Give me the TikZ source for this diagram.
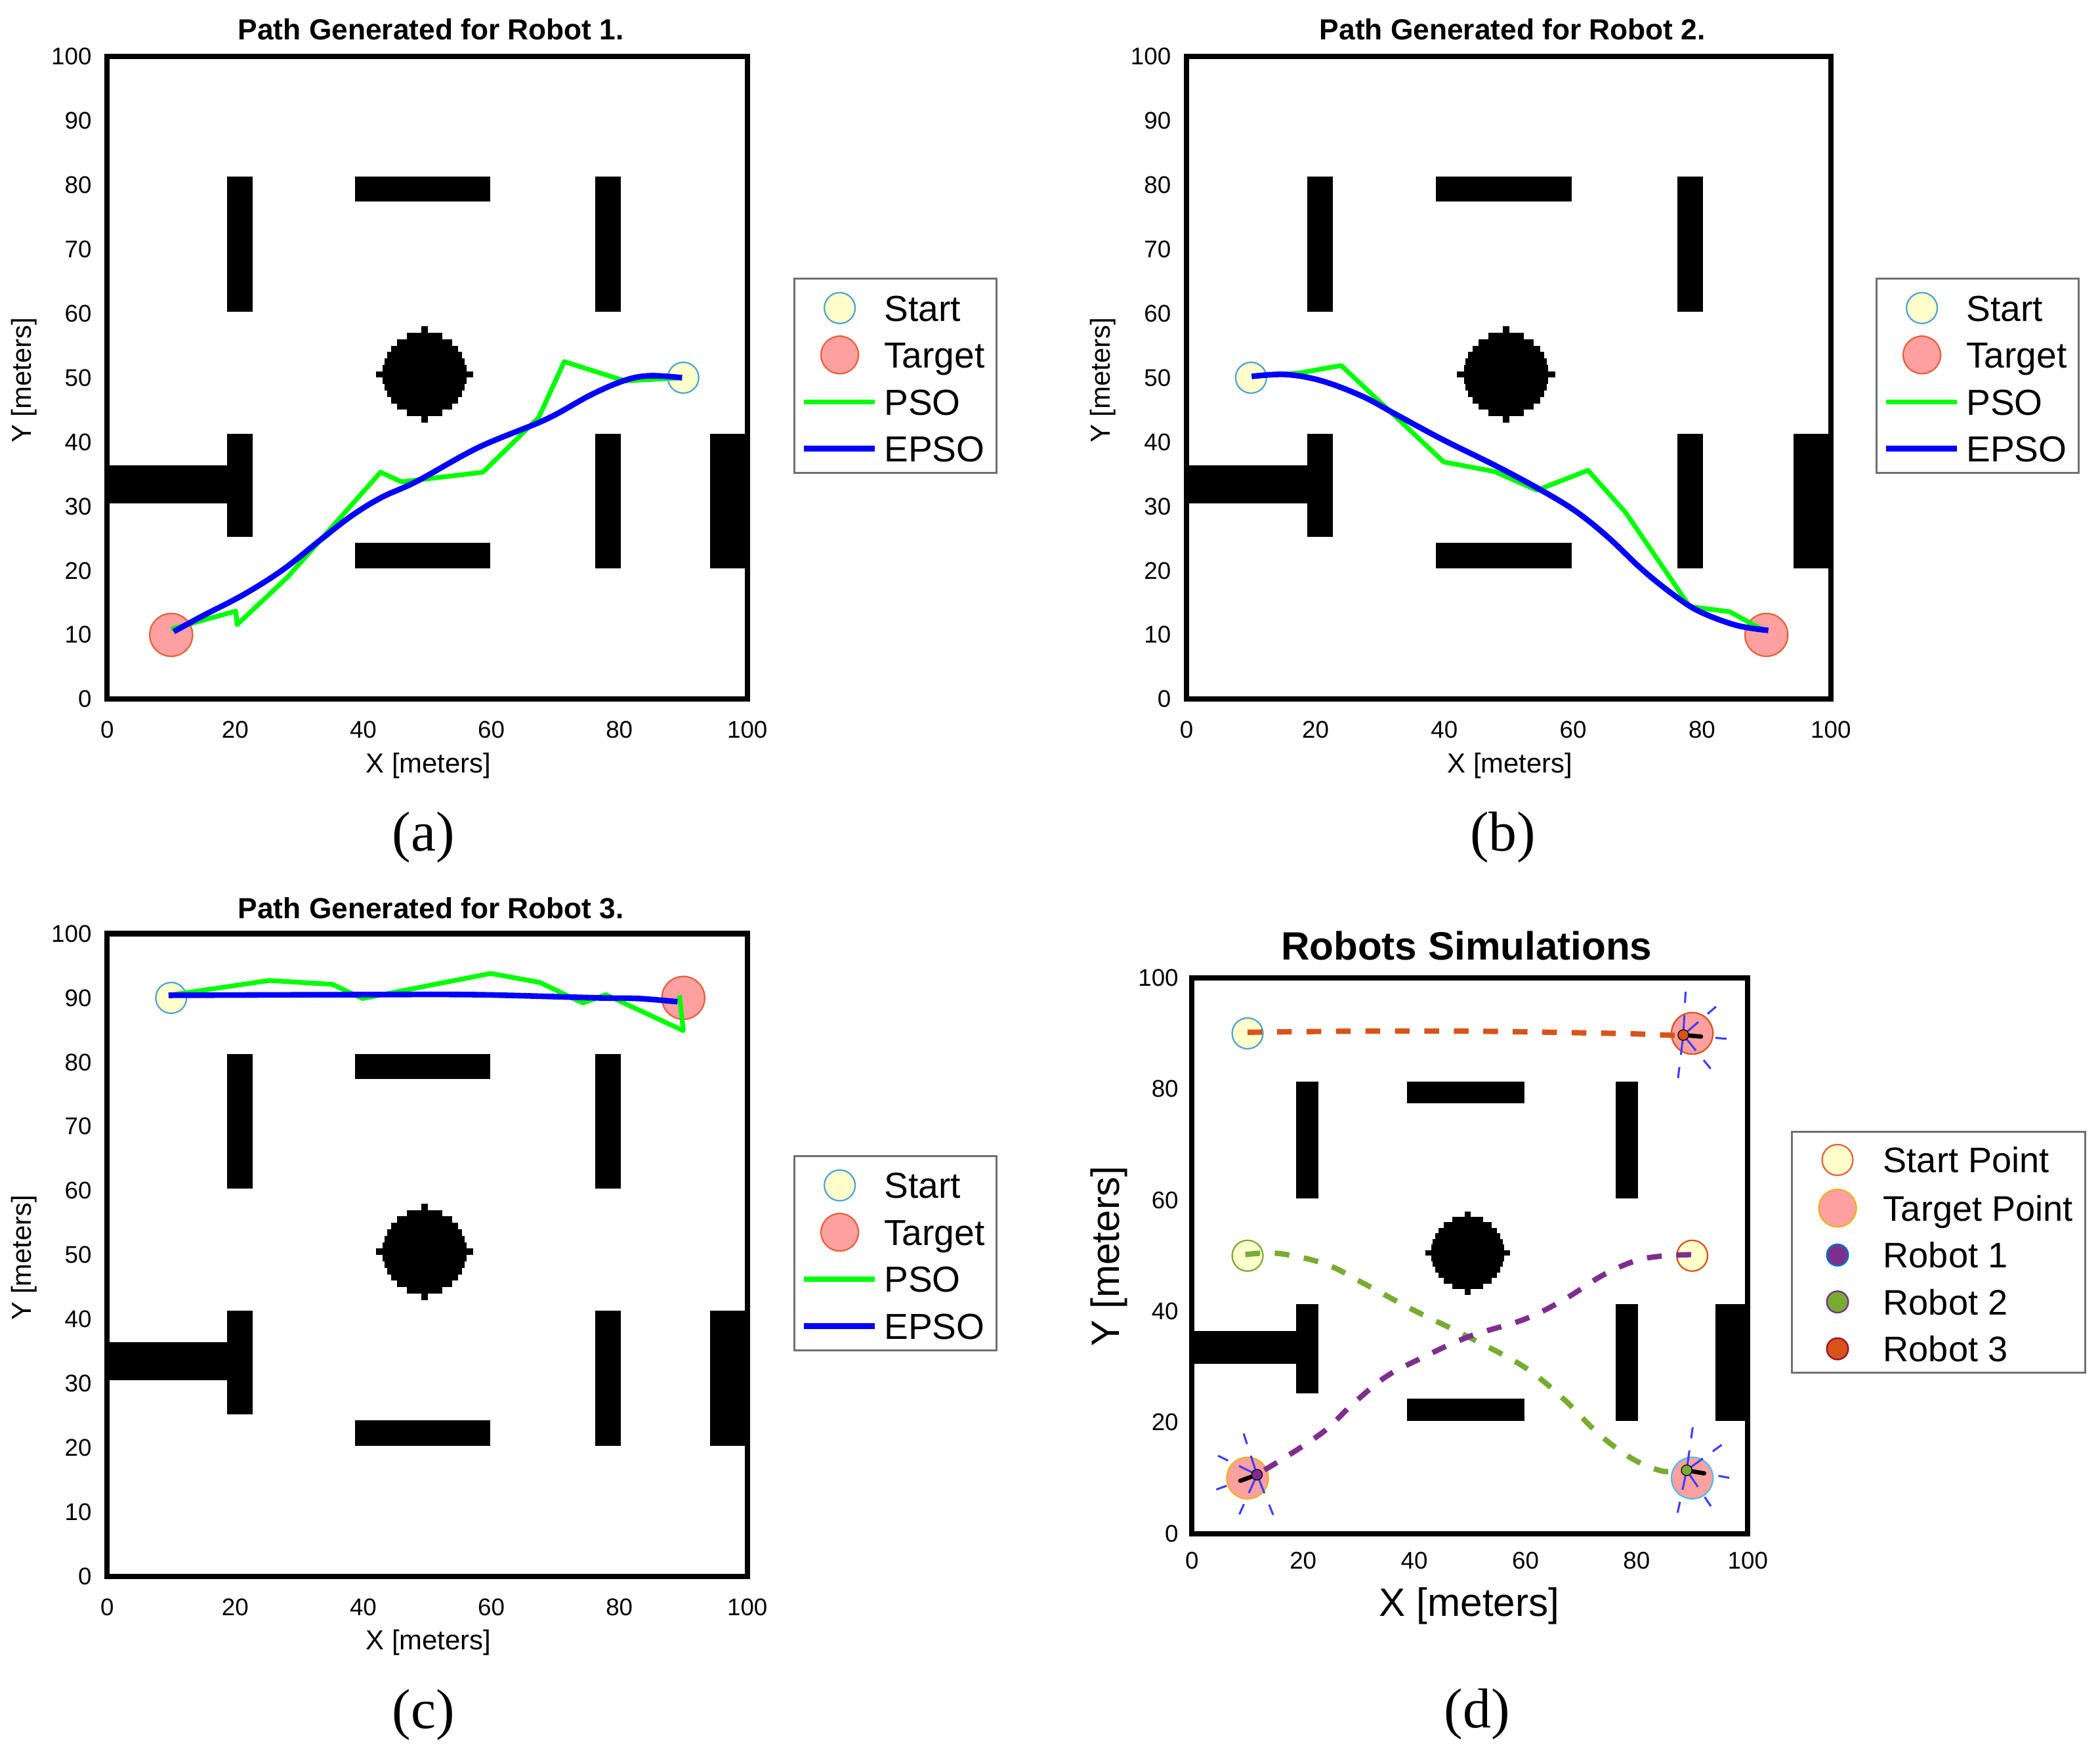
\documentclass[tikz,border=0pt]{standalone}
\usepackage{fontspec}
\setmainfont{Liberation Sans}
\newfontfamily\capserif{Liberation Serif}
\definecolor{stfill}{HTML}{FFFFCC}
\definecolor{stedge}{HTML}{4DA3D9}
\definecolor{tgfill}{HTML}{FFA0A0}
\definecolor{tgedge}{HTML}{E8603C}
\definecolor{psog}{HTML}{00FF00}
\definecolor{epsob}{HTML}{0000FF}
\definecolor{mOrange}{HTML}{D95319}
\definecolor{mGreen}{HTML}{77AC30}
\definecolor{mPurple}{HTML}{7E2F8E}
\definecolor{mBlue}{HTML}{0072BD}
\definecolor{mYellow}{HTML}{EDB120}
\definecolor{mCyan}{HTML}{4DBEEE}
\definecolor{mRed}{HTML}{A2142F}
\definecolor{legedge}{HTML}{707070}
\definecolor{beamblue}{HTML}{3D3DFF}
\tikzset{
 startmk/.style={circle, draw=stedge, fill=stfill, line width=1.1pt, minimum size=23pt, inner sep=0pt},
 targetmk/.style={circle, draw=tgedge, fill=tgfill, line width=1.1pt, minimum size=32pt, inner sep=0pt},
 psoline/.style={draw=psog, line width=3.5pt, line join=round},
 epsoline/.style={draw=epsob, line width=4.2pt, line join=round},
 ticklab/.style={font=\fontsize{18}{20}\selectfont, inner sep=0pt},
 axlab/.style={font=\fontsize{20.5}{24}\selectfont, inner sep=0pt},
 titlelab/.style={font=\bfseries\fontsize{21.7}{25}\selectfont, inner sep=0pt},
 caplab/.style={font=\capserif\fontsize{42}{48}\selectfont, inner sep=0pt},
 legbox/.style={draw=legedge, line width=1.5pt, fill=white},
 legtext/.style={font=\fontsize{27}{30}\selectfont, inner sep=0pt, anchor=base west},
 beam/.style={draw=beamblue, line width=1.5pt},
 headline/.style={draw=black, line width=3.2pt, line cap=round},
 robotdot/.style={circle, minimum size=8pt, inner sep=0pt, draw=black, line width=0.6pt},
 simpath/.style={line width=4pt, dash pattern=on 11pt off 11pt},
}
\newcommand\mazeobstacles{%
 \fill (18.7,60.3) rectangle (22.7,81.3);
 \fill (38.7,77.4) rectangle (59.8,81.3);
 \fill (76.2,60.3) rectangle (80.2,81.3);
 \fill (18.7,25.2) rectangle (22.7,41.3);
 \fill (0,30.5) rectangle (18.7,36.4);
 \fill (38.7,20.3) rectangle (59.8,24.3);
 \fill (76.2,20.3) rectangle (80.2,41.3);
 \fill (94.2,20.3) rectangle (100,41.3);
 \foreach \j in {-6,...,6}{%
   \pgfmathsetmacro\hw{sqrt(43.56-(\j)*(\j))}
   \fill (49.6-\hw,50.5+\j-0.5) rectangle (49.6+\hw,50.5+\j+0.5);}
 \fill (49.1,43) rectangle (50.1,58);
 \fill (42.0,50.0) rectangle (57.2,51.0);
 \draw[line width=4pt] (0,0) rectangle (100,100);
}
\newcommand\pathaxes[1]{%
 \foreach \v in {0,10,...,100}{\node[ticklab, anchor=east] (#1y\v) at (-2.4,\v) {\v};}
 \foreach \v in {0,20,...,100}{\node[ticklab] (#1x\v) at (\v,-4.8) {\v};}
 \node[axlab] (#1xl) at (50.2,-10.3) {X [meters]};
 \node[axlab, rotate=90] (#1yl) at (-13,49.6) {Y [meters]};
}
\newcommand\psolegend[3]{%
 \draw[legbox] (#1,#2) rectangle (#1+151,#2-145);
 \node[startmk] (#3st) at (#1+34,#2-22) {};
 \node[targetmk, minimum size=28pt] (#3tg) at (#1+34,#2-57) {};
 \draw[psoline] (#1+7,#2-92) -- (#1+60,#2-92);
 \draw[epsoline] (#1+7,#2-127) -- (#1+60,#2-127);
 \node[legtext] (#3l1) at (#1+67,#2-31.7) {Start};
 \node[legtext] (#3l2) at (#1+67,#2-66.7) {Target};
 \node[legtext] (#3l3) at (#1+67,#2-101.7) {PSO};
 \node[legtext] (#3l4) at (#1+67,#2-136.7) {EPSO};
}
\newcommand\robotglyph[5]{%
 \begin{scope}[shift={(#1,#2)}]
  \foreach \b in {-92,-46,46,92}{\draw[beam] (0,0) -- (#3+\b:3.6);}
  \foreach \b in {-92,-46,0,46,92}{\draw[beam] (#3+\b:5.8) -- (#3+\b:7.8);}
  \draw[headline] (0,0) -- (#3:3.2);
  \node[robotdot, fill=#4] (#5) at (0,0) {};
 \end{scope}}
\begin{document}
\begin{tikzpicture}[x=1pt,y=1pt]
\fill[white] (0,0) rectangle (1568,1310);
\useasboundingbox (0,0) rectangle (1568,1310);

% ---------- panel (a)
\begin{scope}[shift={(80,788)}, xscale=4.78, yscale=4.8]
 \mazeobstacles
 \pathaxes{a}
 \node[titlelab] (atitle) at (50.6,104.2) {Path Generated for Robot 1.};
 \node[caplab] (acap) at (49.4,-21.5) {(a)};
 \node[startmk] (astart) at (90,50) {};
 \node[targetmk] (atarget) at (10,10) {};
 \draw[psoline] plot coordinates {(89.8,50) (80.9,49.5) (71.4,52.5) (67.4,43.8) (58.7,35.3) (46.0,33.8) (42.7,35.3) (28.2,19.0) (20.3,11.6) (20.1,13.7) (10,10.9)};
 \draw[epsoline] plot[smooth, tension=0.6] coordinates {(89.8,50) (84.8,50.3) (80.9,49.6) (75.5,47.3) (68.5,43.5) (58.1,39.2) (48.4,33.9) (42.9,31.4) (38.3,28.6) (33.6,25) (27.4,20.1) (21.2,16.2) (15,13) (10.4,10.5)};
\end{scope}
\psolegend{593}{1102}{la}

% ---------- panel (b)
\begin{scope}[shift={(886,788)}, xscale=4.81, yscale=4.8]
 \mazeobstacles
 \pathaxes{b}
 \node[titlelab] (btitle) at (50.6,104.2) {Path Generated for Robot 2.};
 \node[caplab] (bcap) at (49.1,-21.5) {(b)};
 \node[startmk] (bstart) at (10,50) {};
 \node[targetmk] (btarget) at (90,10) {};
 \draw[psoline] plot coordinates {(10.1,50.2) (17.3,50.7) (24,51.9) (39.9,36.9) (47.8,35.4) (54.4,32.5) (62.3,35.6) (68.1,29.1) (78.1,14.4) (84.3,13.6) (89.6,10.7)};
 \draw[epsoline] plot[smooth, tension=0.6] coordinates {(10.1,50.2) (15.4,50.5) (21,49.5) (27.3,47.1) (32.3,44.4) (39.7,40.4) (47.8,36.4) (54.7,32.7) (60.3,29.3) (65.3,25.3) (70.9,20) (75.9,16) (79.7,13.6) (85.3,11.5) (90.3,10.7)};
\end{scope}
\psolegend{1401}{1102}{lb}

% ---------- panel (c)
\begin{scope}[shift={(80,133)}, xscale=4.78, yscale=4.8]
 \mazeobstacles
 \pathaxes{c}
 \node[titlelab] (ctitle) at (50.6,104) {Path Generated for Robot 3.};
 \node[caplab] (ccap) at (49.4,-21.5) {(c)};
 \node[startmk] (cstart) at (10,90) {};
 \node[targetmk] (ctarget) at (90,90) {};
 \draw[psoline] plot coordinates {(9.6,90.4) (25.3,92.7) (35.2,92.1) (39.9,89.9) (59.9,93.8) (67.6,92.4) (74.3,89.2) (77.9,90.5) (90.0,84.9) (89.4,90.4)};
 \draw[epsoline] plot[smooth, tension=0.5] coordinates {(9.6,90.4) (38.1,90.5) (57.4,90.5) (76.6,90) (83,89.9) (89.1,89.4)};
\end{scope}
\psolegend{593}{447}{lc}

% ---------- panel (d)
\begin{scope}[shift={(890,165)}, scale=4.15]
 \mazeobstacles
 \foreach \v in {0,20,...,100}{\node[ticklab, anchor=east] (dy\v) at (-2.4,\v) {\v};}
 \foreach \v in {0,20,...,100}{\node[ticklab] (dx\v) at (\v,-4.8) {\v};}
 \node[axlab, font=\fontsize{29.5}{33}\selectfont] (dxl) at (49.9,-13) {X [meters]};
 \node[axlab, font=\fontsize{29.5}{33}\selectfont, rotate=90] (dyl) at (-14.9,49.9) {Y [meters]};
 \node[titlelab, font=\bfseries\fontsize{29.5}{33}\selectfont] (dtitle) at (49.4,105.8) {Robots Simulations};
 \node[caplab] (dcap) at (51.3,-32.5) {(d)};
 \node[startmk, draw=stedge] (ds3) at (10,90) {};
 \node[startmk, draw=mGreen] (ds2) at (10,50) {};
 \node[startmk, draw=mOrange] (ds1) at (90,50) {};
 \node[targetmk, minimum size=31pt, draw=mOrange] (dt3) at (90,90) {};
 \node[targetmk, minimum size=31pt, draw=mYellow] (dt1) at (10,10) {};
 \node[targetmk, minimum size=31pt, draw=mCyan] (dt2) at (90,10) {};
 \draw[simpath, mOrange] plot[smooth] coordinates {(10,90.2) (30,90.4) (50,90.4) (70,90.1) (80,89.9) (87.5,89.6)};
 \draw[simpath, mGreen] plot[smooth, tension=0.6] coordinates {(9.6,50.2) (15.6,50.4) (24,48.5) (31.1,44.9) (39.5,40.4) (49.7,35.4) (59.9,29.9) (67.1,24) (73,18.1) (79,13.6) (84.4,11.3) (87.8,11.3)};
 \draw[simpath, mPurple] plot[smooth, tension=0.6] coordinates {(89.8,50.2) (81.4,49.5) (74.3,46.7) (67.1,42.2) (59.9,38.6) (49.7,35.4) (40.7,31.3) (34.7,28.1) (28.7,23.1) (24,18.6) (18,14.5) (12.8,11.3)};
 \robotglyph{88.4}{89.7}{-5}{mOrange}{rob3}
 \robotglyph{89.0}{11.4}{-10}{mGreen}{rob2}
 \robotglyph{11.7}{10.6}{200}{mPurple}{rob1}
\end{scope}

% legend (d)
\draw[legbox] (1338,465) rectangle (1557,285);
\node[startmk, draw=tgedge] (ldst) at (1372,444) {};
\node[targetmk, minimum size=28pt, draw=mYellow] (ldtg) at (1372,408) {};
\node[robotdot, minimum size=16pt, fill=mPurple, draw=mBlue, line width=1.2pt] (ldr1) at (1372,373) {};
\node[robotdot, minimum size=16pt, fill=mGreen, draw=mPurple, line width=1.2pt] (ldr2) at (1372,338) {};
\node[robotdot, minimum size=16pt, fill=mOrange, draw=mRed, line width=1.2pt] (ldr3) at (1372,303) {};
\node[legtext, font=\fontsize{26.5}{30}\selectfont] (ldl1) at (1406,434.5) {Start Point};
\node[legtext, font=\fontsize{26.5}{30}\selectfont] (ldl2) at (1406,398.5) {Target Point};
\node[legtext, font=\fontsize{26.5}{30}\selectfont] (ldl3) at (1406,363.5) {Robot 1};
\node[legtext, font=\fontsize{26.5}{30}\selectfont] (ldl4) at (1406,328.5) {Robot 2};
\node[legtext, font=\fontsize{26.5}{30}\selectfont] (ldl5) at (1406,293.5) {Robot 3};
\end{tikzpicture}
\end{document}
